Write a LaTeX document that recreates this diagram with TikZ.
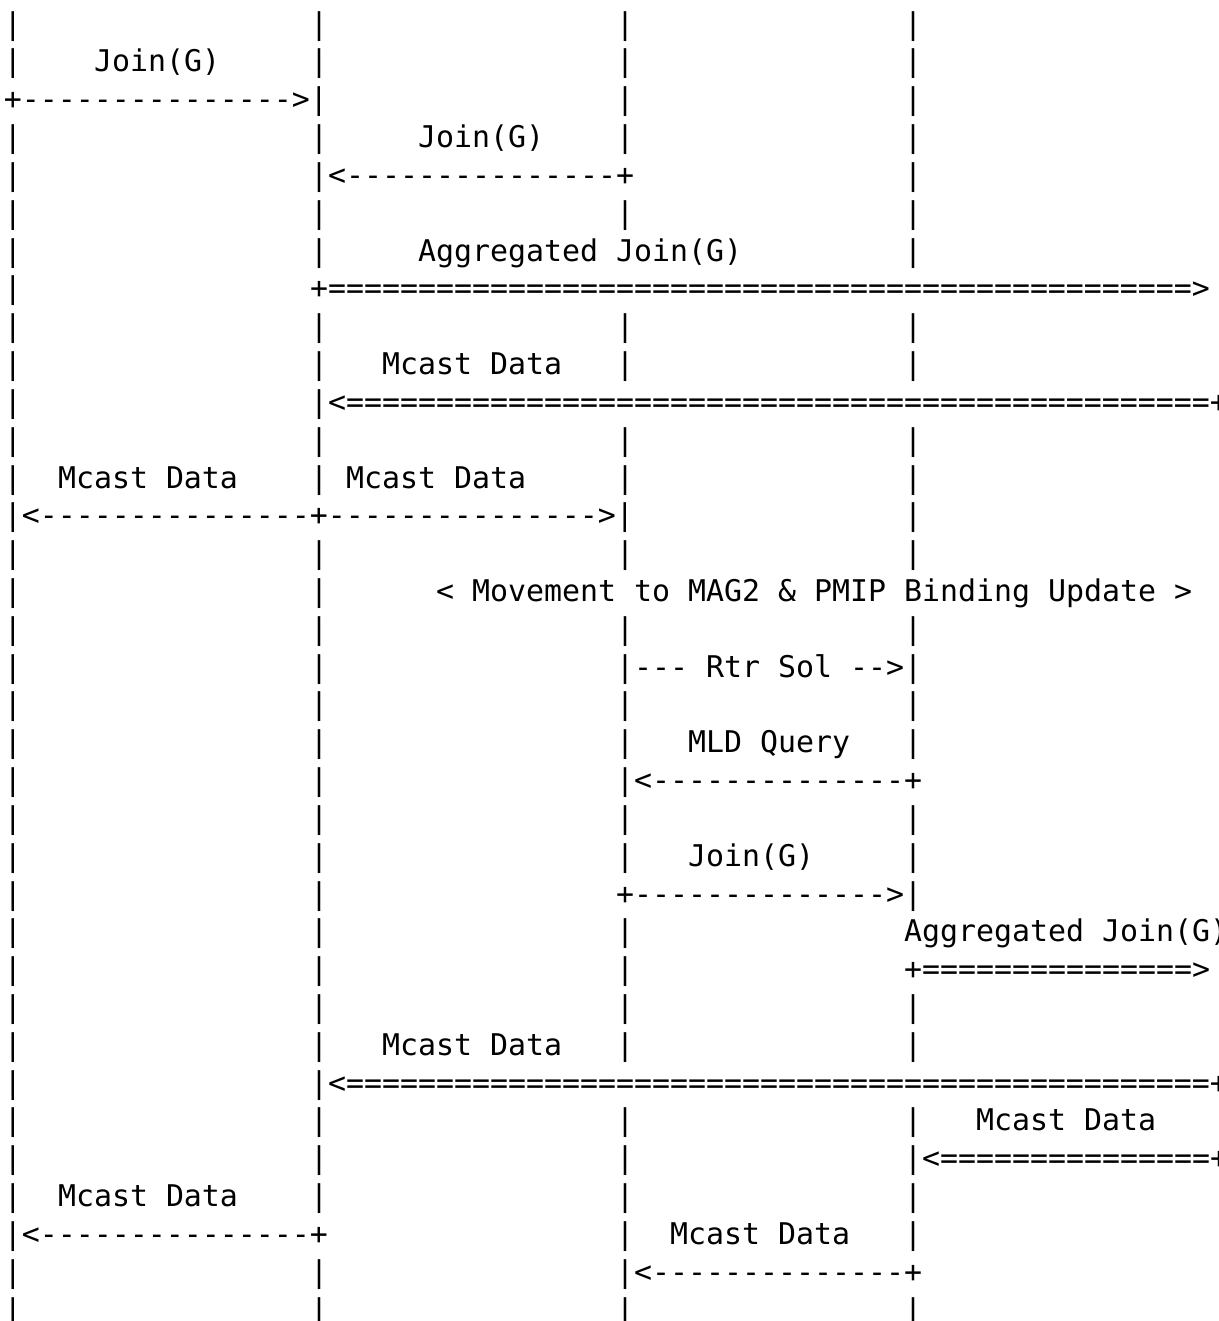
\documentclass[tikz,border=0pt]{standalone}
\usepackage{fontspec}
\setmonofont{DejaVu Sans Mono}
\tikzset{asc/.style={anchor=base west, inner sep=0pt, outer sep=0pt,
  font=\ttfamily\fontsize{29.9}{36}\selectfont, text=black}}
\newcommand\seg[3]{\node[asc] (r#1c#2) at ({4+18*#2},{34.18+37.82*(#1-1)}) {#3};}
\newcommand\bars[2]{\foreach \cc in {#2} {\seg{#1}{\cc}{|}}}
\begin{document}
\begin{tikzpicture}[x=1pt,y=-1pt]
\useasboundingbox (0,0) rectangle (1218,1321);
\clip (0,0) rectangle (1218,1321);
\bars{1}{0,17,34,50}
\bars{2}{0,17,34,50} \seg{2}{5}{Join(G)}
\seg{3}{0}{+--------------->|} \bars{3}{34,50}
\bars{4}{0,17,34,50} \seg{4}{23}{Join(G)}
\bars{5}{0,50} \seg{5}{17}{|<---------------+}
\bars{6}{0,17,34,50}
\bars{7}{0,17,50} \seg{7}{23}{Aggregated Join(G)}
\bars{8}{0} \seg{8}{17}{+================================================>}
\bars{9}{0,17,34,50}
\bars{10}{0,17,34,50} \seg{10}{21}{Mcast Data}
\bars{11}{0} \seg{11}{17}{|<================================================+}
\bars{12}{0,17,34,50}
\bars{13}{0,17,34,50} \seg{13}{3}{Mcast Data} \seg{13}{19}{Mcast Data}
\seg{14}{0}{|<---------------+--------------->|} \bars{14}{50}
\bars{15}{0,17,34,50}
\bars{16}{0,17} \seg{16}{24}{< Movement to MAG2 \& PMIP Binding Update >}
\bars{17}{0,17,34,50}
\bars{18}{0,17} \seg{18}{34}{|--- Rtr Sol -->|}
\bars{19}{0,17,34,50}
\bars{20}{0,17,34,50} \seg{20}{38}{MLD Query}
\bars{21}{0,17} \seg{21}{34}{|<--------------+}
\bars{22}{0,17,34,50}
\bars{23}{0,17,34,50} \seg{23}{38}{Join(G)}
\bars{24}{0,17} \seg{24}{34}{+-------------->|}
\bars{25}{0,17,34} \seg{25}{50}{Aggregated Join(G)}
\bars{26}{0,17,34} \seg{26}{50}{+===============>}
\bars{27}{0,17,34,50}
\bars{28}{0,17,34,50} \seg{28}{21}{Mcast Data}
\bars{29}{0} \seg{29}{17}{|<================================================+}
\bars{30}{0,17,34,50} \seg{30}{54}{Mcast Data}
\bars{31}{0,17,34} \seg{31}{50}{|<===============+}
\bars{32}{0,17,34,50} \seg{32}{3}{Mcast Data}
\seg{33}{0}{|<---------------+} \bars{33}{34,50} \seg{33}{37}{Mcast Data}
\bars{34}{0,17} \seg{34}{34}{|<--------------+}
\bars{35}{0,17,34,50}
\end{tikzpicture}
\end{document}
